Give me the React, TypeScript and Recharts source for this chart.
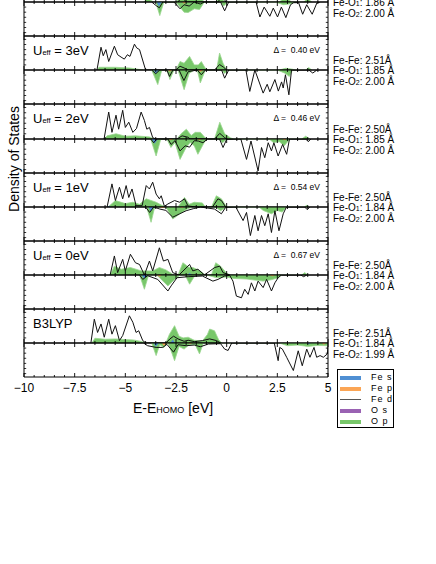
import React from 'react';
import { ComposedChart, Area, Line, XAxis, YAxis } from 'recharts';

type Pt = [number, number];

// energies in eV, DOS in arbitrary units (panel half height = 10)

// top panel, only its spin-down half is inside the picture
const cutFeDUp: Pt[] = [[-2.4, 0], [-2.2, 1.5], [-2.0, 0], [-0.4, 0], [-0.25, 3], [-0.05, 0]];
const cutFeDDn: Pt[] = [[-3.7, 0], [-3.45, -1.2], [-3.32, -1.7], [-3.15, 0], [-2.6, 0], [-2.3, -2], [-2.1, -0.8], [-1.85, -1.2], [-1.6, 0], [-1.3, -0.6], [-1.1, 0], [-0.3, 0], [-0.1, -2.6], [0.1, 0], [1.45, 0], [1.64, -4.4], [1.85, -1.5], [2.13, -4.2], [2.3, -1.8], [2.51, -4.4], [2.7, -1.5], [2.92, -4.6], [3.15, -0.8], [3.3, -0.2], [3.55, -0.2], [3.75, -3.6], [3.95, -0.8], [4.22, -3.6], [4.45, -0.3], [4.6, 0]];
const cutOpUp: Pt[] = [[-4.1, 0], [-3.9, 1], [-3.6, 0], [-2.5, 0], [-2.2, 2], [-1.8, 3], [-1.4, 2], [-1.1, 0], [-0.5, 0], [-0.3, 2], [-0.1, 0], [2.6, 0], [2.9, 1.5], [3.2, 0], [3.8, 0], [4.0, 1], [4.2, 0]];
const cutOpDn: Pt[] = [[-3.5, 0], [-3.3, -4], [-3.1, 0], [-2.5, 0], [-2.1, -3], [-1.9, -3.1], [-1.6, -2], [-1.34, -2.2], [-1.1, 0], [-0.3, 0], [-0.15, -1.2], [0.05, 0], [2.4, 0], [2.8, -0.8], [3.2, -0.5], [3.4, 0]];
const cutFeSDn: Pt[] = [[-3.45, 0], [-3.35, -1.3], [-3.2, 0]];
const cutFePDn: Pt[] = [[-2.2, 0], [-2.1, -0.5], [-2.0, 0]];

// U_eff = 3 eV
const u3FeDUp: Pt[] = [[-6.4, 0], [-6.2, 6.7], [-6.09, 4.2], [-5.96, 6], [-5.82, 2.5], [-5.54, 7], [-5.38, 4.5], [-5.21, 3.8], [-5.05, 3.2], [-4.9, 4.5], [-4.77, 4], [-4.55, 7.6], [-4.44, 6.5], [-4.3, 6], [-4.0, 0], [-2.5, 0], [-2.3, 1.1], [-2.1, 0.6], [-1.9, 0], [-0.6, 0], [-0.35, 1.6], [-0.15, 0.8], [0, 0]];
const u3FeDDn: Pt[] = [[-3.7, 0], [-3.5, -1.1], [-3.3, 0], [-2.95, 0], [-2.82, -1.9], [-2.65, 0], [-2.35, 0], [-2.11, -3.1], [-1.9, -0.5], [-1.45, 0], [-1.25, -1.4], [-1.05, 0], [-0.25, 0], [-0.1, -2.4], [0.1, 0], [0.95, 0], [1.14, -6.3], [1.39, 0], [1.8, -6.8], [2.0, -4.2], [2.13, -6.4], [2.38, -2.8], [2.55, -6.2], [2.71, -3.5], [2.79, -5.3], [2.9, -1.4], [3.07, -7.3], [3.2, 0], [4.05, 0], [4.25, -0.9], [4.45, 0]];
const u3OpUp: Pt[] = [[-6.4, 0], [-6.3, 0.8], [-5.5, 0.8], [-4.8, 0.6], [-4.1, 0], [-2.5, 0], [-2.3, 2.5], [-2.1, 2], [-1.83, 4], [-1.6, 1.5], [-1.4, 1.5], [-1.25, 2.5], [-1.05, 0.5], [-0.9, 0], [-0.5, 0], [-0.35, 5], [-0.18, 2], [0, 0], [2.6, 0], [2.9, 0.5], [3.2, 0.3], [3.4, 0], [3.9, 0], [4.05, 0.7], [4.2, 0]];
const u3OpDn: Pt[] = [[-3.7, 0], [-3.4, -4.3], [-3.2, 0], [-2.95, 0], [-2.8, -2.8], [-2.6, 0], [-2.4, 0], [-2.1, -5.8], [-1.85, -1], [-1.6, 0], [-1.45, 0], [-1.3, -3.8], [-1.05, 0], [-0.25, 0], [-0.1, -1], [0.05, 0], [2.5, 0], [2.9, -1], [3.09, -1.9], [3.25, 0]];
const u3FeSDn: Pt[] = [[-3.6, 0], [-3.5, -1.1], [-3.35, 0]];
const u3FePDn: Pt[] = [[-2.9, 0], [-2.8, -0.5], [-2.7, 0], [-1.4, 0], [-1.3, -0.6], [-1.15, 0]];

// U_eff = 2 eV
const u2FeDUp: Pt[] = [[-6.05, 0], [-5.82, 7.7], [-5.66, 1.9], [-5.46, 6.8], [-5.33, 2.8], [-5.13, 8.2], [-5.0, 3.3], [-4.83, 4.8], [-4.63, 1.9], [-4.45, 3], [-4.22, 7.7], [-4.06, 5.3], [-3.94, 2.8], [-3.81, 3.3], [-3.65, 0.4], [-3.5, 0], [-2.45, 0], [-2.2, 0.9], [-1.9, 0.5], [-1.8, 0], [-0.6, 0], [-0.34, 1.6], [-0.1, 0.4], [0, 0]];
const u2FeDDn: Pt[] = [[-3.75, 0], [-3.6, -1.1], [-3.45, 0], [-2.9, 0], [-2.74, -1.6], [-2.55, -0.5], [-2.3, -3.5], [-2.05, -2], [-1.83, -2.4], [-1.6, -0.5], [-1.4, -0.6], [-1.17, -1.1], [-0.95, 0], [-0.35, 0], [-0.18, -2.5], [0, -0.1], [0.7, 0], [0.98, -6], [1.2, -0.6], [1.55, -9.4], [1.72, -2.5], [1.88, -5.5], [2.05, -1.1], [2.21, -3.5], [2.33, -1.1], [2.54, -5], [2.76, -1.6], [2.96, -4.5], [3.1, 0], [3.9, 0], [4.03, -0.8], [4.15, 0]];
const u2OpUp: Pt[] = [[-6.05, 0], [-5.9, 0.9], [-5.46, 1.5], [-5.0, 0.8], [-4.5, 0.9], [-3.8, 0.6], [-3.6, 0], [-2.45, 0], [-2.25, 1.5], [-1.99, 2.8], [-1.75, 1], [-1.55, 1.9], [-1.3, 1.9], [-1.05, 0.3], [-0.9, 0], [-0.6, 0], [-0.34, 4.8], [-0.1, 1.5], [0.2, 0.3], [0.35, 0], [3.7, 0], [3.9, 0.8], [4.1, 0]];
const u2OpDn: Pt[] = [[-3.75, 0], [-3.48, -5], [-3.25, 0], [-2.95, 0], [-2.75, -2.5], [-2.55, -1], [-2.3, -6], [-2.0, -2.5], [-1.8, -1], [-1.6, -2], [-1.42, -4.5], [-1.15, -1.5], [-1.0, 0], [-0.4, 0], [-0.2, -1.1], [0, 0], [2.1, 0], [2.3, -1], [2.6, -0.8], [2.84, -2], [3.05, -0.5], [3.15, 0]];
const u2FeSDn: Pt[] = [[-3.7, 0], [-3.55, -1.4], [-3.4, 0]];
const u2FePDn: Pt[] = [[-2.85, 0], [-2.75, -0.4], [-2.65, 0], [-1.45, 0], [-1.35, -0.4], [-1.25, 0], [2.75, 0], [2.85, -0.4], [2.95, 0]];

// U_eff = 1 eV
const u1FeDUp: Pt[] = [[-5.9, 0], [-5.66, 6.8], [-5.49, 1.9], [-5.29, 5.8], [-5.13, 2.4], [-4.96, 6.3], [-4.83, 2.8], [-4.67, 5.3], [-4.47, 0.4], [-4.17, 0.4], [-3.97, 6.3], [-3.81, 5.3], [-3.65, 7.3], [-3.48, 3.8], [-3.32, 2.4], [-3.23, 3.3], [-3.07, 0.2], [-2.9, 0.9], [-2.57, 1.9], [-2.32, 1.4], [-2.08, 2.4], [-1.91, 0.3], [-1.5, 0], [-0.7, 0], [-0.43, 2.4], [-0.26, 1.9], [-0.05, 0]];
const u1FeDDn: Pt[] = [[-4.0, 0], [-3.8, -1.6], [-3.6, 0], [-3.3, -0.6], [-3.0, -1], [-2.66, -3], [-2.32, -2], [-2.0, -1.1], [-1.65, -0.5], [-1.3, 0], [-0.6, -0.6], [-0.26, -2], [-0.05, -0.1], [0.45, 0], [0.81, -4], [0.98, -1.6], [1.17, -8.4], [1.39, -2.5], [1.55, -7], [1.72, -2.5], [1.88, -5.5], [2.05, -2], [2.21, -7.5], [2.38, -1.1], [2.58, -7], [2.79, -2], [2.95, 0], [3.85, 0], [3.98, -0.8], [4.1, 0]];
const u1OpUp: Pt[] = [[-5.85, 0], [-5.49, 1.9], [-5.0, 1], [-4.63, 1.4], [-4.3, 0.8], [-3.97, 2.4], [-3.48, 1.4], [-3.2, 0.5], [-3.0, 0], [-2.4, 0], [-2.08, 2.8], [-1.85, 0.8], [-1.6, 1.4], [-1.2, 1.2], [-1.05, 0], [-0.75, 0], [-0.51, 3.3], [-0.26, 2.4], [0, 0], [3.85, 0], [3.95, 0.6], [4.05, 0]];
const u1OpDn: Pt[] = [[-3.95, 0], [-3.73, -4.5], [-3.55, 0], [-3.0, 0], [-2.66, -3.5], [-2.3, -2], [-1.95, -0.6], [-1.7, 0], [-0.55, 0], [-0.3, -1.1], [0, 0], [1.6, 0], [1.8, -1], [2.21, -2], [2.5, -1], [2.74, -1.5], [2.95, 0]];
const u1FeSUp: Pt[] = [[-5.9, 0], [-5.8, 0.4], [-5.7, 0]];
const u1FeSDn: Pt[] = [[-3.85, 0], [-3.75, -1.4], [-3.6, 0]];
const u1FePDn: Pt[] = [[-3.3, 0], [-3.2, -0.4], [-3.0, 0], [-2.3, 0], [-2.2, -0.3], [-2.1, 0]];

// U_eff = 0 eV
const u0FeDUp: Pt[] = [[-5.75, 0], [-5.54, 5.6], [-5.38, 0.7], [-5.13, 4.6], [-5.0, 1.2], [-4.75, 6.1], [-4.5, 3.6], [-4.3, 3.1], [-4.06, 0], [-3.81, 4.1], [-3.65, 1.2], [-3.32, 8], [-3.12, 4.1], [-2.9, 4.6], [-2.66, 0.7], [-2.35, 0], [-1.83, 3.1], [-1.67, 1.2], [-1.42, 1.7], [-1.1, 0], [-0.59, 2.2], [-0.34, 2.6], [-0.18, 0.7], [0.15, 0]];
const u0FeDDn: Pt[] = [[-4.3, 0], [-4.14, -1.3], [-3.9, -0.2], [-3.4, -1.3], [-2.9, -4.7], [-2.74, -3.2], [-2.45, -0.8], [-1.9, -0.5], [-1.2, -0.3], [-0.68, -1.8], [-0.43, -1.3], [-0.1, -0.3], [0.15, -0.1], [0.31, -1.8], [0.48, -6.2], [0.73, -6.7], [0.89, -4.2], [1.06, -5.7], [1.22, -2.3], [1.39, -4.7], [1.55, -1.8], [1.8, -3.7], [1.97, -1.3], [2.21, -4.7], [2.38, -2.3], [2.54, -0.8], [2.7, 0], [3.65, 0], [3.8, -0.5], [3.95, 0]];
const u0OpUp: Pt[] = [[-5.75, 0], [-5.54, 2.6], [-5.2, 1.7], [-4.75, 2.2], [-4.2, 1.2], [-3.65, 1.2], [-3.32, 2.2], [-3.0, 1.5], [-2.6, 0], [-2.4, 0], [-2.16, 3.6], [-1.85, 2.2], [-1.67, 2.2], [-1.3, 1.2], [-1.05, 0], [-0.75, 0], [-0.54, 3.6], [-0.3, 2.6], [0, 0.5], [0.2, 0], [3.7, 0], [3.85, 0.7], [4.0, 0]];
const u0OpDn: Pt[] = [[-4.3, 0], [-4.06, -4.2], [-3.85, 0], [-3.45, 0], [-2.9, -3.2], [-2.6, -1.5], [-2.3, 0], [-2.05, 0], [-1.83, -2.7], [-1.55, 0], [-1.0, 0], [-0.5, -0.8], [0, -0.6], [0.3, -1], [1.0, -1.2], [1.8, -1.8], [2.2, -1.4], [2.55, -0.8], [2.7, 0]];
const u0FeSUp: Pt[] = [[-1.95, 0], [-1.83, 0.6], [-1.7, 0]];
const u0FeSDn: Pt[] = [[-4.2, 0], [-4.06, -1.1], [-3.9, 0]];
const u0FePDn: Pt[] = [[-3.45, 0], [-3.32, -0.5], [-3.2, 0], [2.1, 0], [2.25, -0.4], [2.4, 0]];

// B3LYP
const b3FeDUp: Pt[] = [[-6.7, 0], [-6.53, 7], [-6.37, 3.1], [-6.2, 5.6], [-6.04, 1.7], [-5.82, 7], [-5.66, 2.6], [-5.49, 5.1], [-5.29, 0.7], [-5.13, 2.2], [-4.8, 8], [-4.63, 6.1], [-4.47, 3.1], [-4.34, 3.6], [-4.14, 0.7], [-3.98, 0], [-3.0, 0], [-2.8, 1.2], [-2.62, 2], [-2.4, 1.2], [-2.1, 0.5], [-1.9, 0.8], [-1.6, 0.4], [-1.2, 0.7], [-0.84, 1.2], [-0.5, 0.7], [-0.3, 0]];
const b3FeDDn: Pt[] = [[-4.1, 0], [-3.9, -0.8], [-3.48, -1.3], [-3.15, -1.3], [-2.95, -0.4], [-2.62, -2.7], [-2.4, -0.5], [-2.0, -0.8], [-1.6, -0.6], [-1.3, -1.1], [-0.9, -0.3], [-0.3, -0.2], [-0.1, -1.8], [0.07, -2.2], [0.25, 0], [2.35, 0], [2.54, -5.2], [2.62, -1.3], [2.75, -1.8], [2.96, -4.2], [3.29, -8.1], [3.53, -2.3], [3.73, -6.7], [3.95, -1.8], [4.11, -4.2], [4.31, -1.3], [4.44, -4.2], [4.61, -3.7], [4.77, -4.2], [4.97, -3.2], [5, -1]];
const b3OpUp: Pt[] = [[-6.65, 0], [-6.5, 1.4], [-6.0, 1.1], [-5.5, 1.2], [-5.0, 1], [-4.6, 0.9], [-4.15, 0.4], [-4.0, 0], [-3.0, 0], [-2.82, 2.6], [-2.57, 5.1], [-2.35, 2], [-2.15, 1.5], [-1.9, 1.7], [-1.6, 0.8], [-1.2, 0.6], [-0.95, 2.5], [-0.84, 4.1], [-0.6, 3.6], [-0.4, 1], [-0.25, 0]];
const b3OpDn: Pt[] = [[-3.7, 0], [-3.48, -3.7], [-3.3, -0.5], [-3.1, -1.3], [-2.9, 0], [-2.82, -1], [-2.57, -5.2], [-2.35, -1], [-2.1, -1.8], [-1.85, -0.5], [-1.55, -0.5], [-1.34, -3.2], [-1.15, 0], [2.6, 0], [3.0, -0.8], [3.5, -0.6], [4.0, -1], [4.5, -0.7], [5, -0.8]];
const b3FeSUp: Pt[] = [[-2.78, 0], [-2.66, 1], [-2.55, 0]];
const b3FeSDn: Pt[] = [[-3.6, 0], [-3.5, -1.1], [-3.35, 0], [3.95, 0], [4.05, -0.4], [4.15, 0]];
const b3FePDn: Pt[] = [[-3.2, 0], [-3.1, -0.8], [-2.95, 0], [-1.9, 0], [-1.8, -0.3], [-1.7, 0], [4.7, 0], [4.8, -0.5], [4.9, 0]];

const methods = [null, '3eV', '2eV', '1eV', '0eV', 'B3LYP'];
const gaps = [null, '0.40', '0.46', '0.54', '0.67', null];
const feFe = [null, '2.51', '2.50', '2.50', '2.50', '2.51'];
const feO1 = ['1.86', '1.85', '1.85', '1.84', '1.84', '1.84'];
const feO2 = ['2.00', '2.00', '2.00', '2.00', '2.00', '1.99'];

const xMajor = [-10, -7.5, -5, -2.5, 0, 2.5, 5];
const xTicks = Array.from({ length: 31 }, (_, i) => -10 + i * 0.5);
const yUpTicks = [1.5, 3, 4.5, 6, 7.5, 9];
const yDnTicks = [-9, -7.5, -6, -4.5, -3, -1.5];

const COLORS = { feS: '#4f8fd3', feP: '#fba555', feD: '#111111', oS: '#9a62b3', oP: '#78c76a' };
const FONT = '"Liberation Sans", Arial, Helvetica, sans-serif';

const panels = [
  { up: { d: cutFeDUp, p: cutOpUp, s: [], fp: [] }, dn: { d: cutFeDDn, p: cutOpDn, s: cutFeSDn, fp: cutFePDn } },
  { up: { d: u3FeDUp, p: u3OpUp, s: [], fp: [] }, dn: { d: u3FeDDn, p: u3OpDn, s: u3FeSDn, fp: u3FePDn } },
  { up: { d: u2FeDUp, p: u2OpUp, s: [], fp: [] }, dn: { d: u2FeDDn, p: u2OpDn, s: u2FeSDn, fp: u2FePDn } },
  { up: { d: u1FeDUp, p: u1OpUp, s: u1FeSUp, fp: [] }, dn: { d: u1FeDDn, p: u1OpDn, s: u1FeSDn, fp: u1FePDn } },
  { up: { d: u0FeDUp, p: u0OpUp, s: u0FeSUp, fp: [] }, dn: { d: u0FeDDn, p: u0OpDn, s: u0FeSDn, fp: u0FePDn } },
  { up: { d: b3FeDUp, p: b3OpUp, s: b3FeSUp, fp: [] }, dn: { d: b3FeDDn, p: b3OpDn, s: b3FeSDn, fp: b3FePDn } },
];

// page rows of the panel frames and of the zero lines
const edges = [-32, 36, 104, 173, 241, 309, 377];
const zeros = [2, 70, 139, 207, 275, 343];

const rows = (pts: Pt[]) => pts.map(([e, v]) => ({ e, v }));
const fmt = (v: number) => (v < 0 ? '\u2212' + Math.abs(v) : String(v));

function XTick(props: any) {
  const { x, y, payload, dir, labels } = props;
  const v = payload.value;
  const major = xMajor.some((m) => Math.abs(m - v) < 1e-6);
  return (
    <g>
      <line x1={x} x2={x} y1={y} y2={y + dir * (major ? 4 : 2)} stroke="#000" strokeWidth={0.9} />
      {labels && major && (
        <text x={x} y={y + 15} textAnchor="middle" fontSize={12} fontFamily={FONT} fill="#000">
          {fmt(v)}
        </text>
      )}
    </g>
  );
}

function YTick(props: any) {
  const { x, y, dir } = props;
  return <line x1={x} x2={x + dir * 2.2} y1={y} y2={y} stroke="#000" strokeWidth={0.8} />;
}

// one spin channel of one panel; axes are 1px thick boxes so Recharts draws them
function Half({ top, h, up, set, last }: any) {
  const bottomPad = last ? 24 : 0;
  const axisLine = { stroke: '#000', strokeWidth: 1 };
  return (
    <div style={{ position: 'absolute', left: 0, top: top - 1 }}>
      <ComposedChart width={340} height={h + 2 + bottomPad} margin={{ top: 0, right: 11, bottom: bottomPad, left: 23 }}>
        <XAxis xAxisId="b" type="number" dataKey="e" domain={[-10, 5]} ticks={xTicks} interval={0} orientation="bottom"
          height={1} tickSize={0} tickMargin={0} tickLine={false} axisLine={axisLine} allowDataOverflow
          tick={<XTick dir={-1} labels={last} />} />
        <XAxis xAxisId="t" type="number" dataKey="e" domain={[-10, 5]} ticks={xTicks} interval={0} orientation="top"
          height={1} tickSize={0} tickMargin={0} tickLine={false} axisLine={axisLine} allowDataOverflow
          tick={<XTick dir={1} />} />
        <YAxis yAxisId="l" type="number" domain={up ? [0, 10] : [-10, 0]} ticks={up ? yUpTicks : yDnTicks} interval={0}
          orientation="left" width={1} tickSize={0} tickMargin={0} tickLine={false} axisLine={axisLine} allowDataOverflow
          tick={<YTick dir={1} />} />
        <YAxis yAxisId="r" type="number" domain={up ? [0, 10] : [-10, 0]} ticks={up ? yUpTicks : yDnTicks} interval={0}
          orientation="right" width={1} tickSize={0} tickMargin={0} tickLine={false} axisLine={axisLine} allowDataOverflow
          tick={<YTick dir={-1} />} />
        <Area xAxisId="b" yAxisId="l" data={rows(set.p)} dataKey="v" type="linear" baseValue={0}
          fill={COLORS.oP} fillOpacity={1} stroke="#9bd68f" strokeWidth={0.8} isAnimationActive={false} />
        <Area xAxisId="b" yAxisId="l" data={rows(set.s)} dataKey="v" type="linear" baseValue={0}
          fill={COLORS.feS} fillOpacity={1} stroke="none" isAnimationActive={false} />
        <Area xAxisId="b" yAxisId="l" data={rows(set.fp)} dataKey="v" type="linear" baseValue={0}
          fill={COLORS.feP} fillOpacity={1} stroke="none" isAnimationActive={false} />
        <Line xAxisId="b" yAxisId="l" data={rows(set.d)} dataKey="v" type="linear"
          stroke={COLORS.feD} strokeWidth={1} dot={false} isAnimationActive={false} />
      </ComposedChart>
    </div>
  );
}

const txt = (extra: React.CSSProperties): React.CSSProperties => ({
  position: 'absolute', fontFamily: FONT, color: '#000', whiteSpace: 'pre', ...extra,
});

const legendItems = [
  { label: 'Fe s', color: COLORS.feS, line: false },
  { label: 'Fe p', color: COLORS.feP, line: false },
  { label: 'Fe d', color: '#555555', line: true },
  { label: 'O s', color: COLORS.oS, line: false },
  { label: 'O p', color: COLORS.oP, line: false },
];

export default function App() {
  return (
    <div style={{ position: 'absolute', left: 0, top: 0, width: 436, height: 564, overflow: 'hidden', background: '#fff' }}>
      {panels.map((pn, i) => (
        <React.Fragment key={i}>
          <Half top={edges[i]} h={zeros[i] - edges[i]} up set={pn.up} />
          <Half top={zeros[i]} h={edges[i + 1] - zeros[i]} up={false} set={pn.dn} last={i === panels.length - 1} />
        </React.Fragment>
      ))}

      {panels.map((_, i) => (
        <React.Fragment key={'t' + i}>
          {methods[i] && (
            <div style={txt({ left: 33, top: edges[i] + 7, fontSize: 13, lineHeight: '16px' })}>
              {methods[i] === 'B3LYP' ? 'B3LYP' : (
                <>U<span style={{ fontSize: 7.5 }}>eff</span> = {methods[i]}</>
              )}
            </div>
          )}
          {gaps[i] && (
            <div style={txt({ left: 0, width: 320, textAlign: 'right', top: edges[i] + 8, fontSize: 8.5, lineHeight: '12px' })}>
              {'\u0394 =  ' + gaps[i] + ' eV'}
            </div>
          )}
          {feFe[i] && (
            <div style={txt({ left: 333, top: zeros[i] - 15.5, fontSize: 10, lineHeight: '12px' })}>
              {'Fe-Fe: ' + feFe[i] + '\u00c5'}
            </div>
          )}
          <div style={txt({ left: 333, top: zeros[i] - 5.2, fontSize: 10, lineHeight: '12px' })}>
            Fe-O<span style={{ fontSize: 7 }}>1</span>{': ' + feO1[i] + ' \u00c5'}
          </div>
          <div style={txt({ left: 333, top: zeros[i] + 5.5, fontSize: 10, lineHeight: '12px' })}>
            Fe-O<span style={{ fontSize: 7 }}>2</span>{': ' + feO2[i] + ' \u00c5'}
          </div>
        </React.Fragment>
      ))}

      <div style={txt({ left: 14 - 60, top: 159 - 9, width: 120, textAlign: 'center', fontSize: 14, lineHeight: '18px', transform: 'rotate(-90deg)' })}>
        Density of States
      </div>
      <div style={txt({ left: 24, width: 304, textAlign: 'left', top: 399, fontSize: 14, lineHeight: '18px', paddingLeft: 109 })}>
        E-E<span style={{ fontSize: 9 }}>HOMO</span> [eV]
      </div>

      <div style={{ position: 'absolute', left: 337, top: 369, width: 55, height: 57, border: '1px solid #000', background: '#fff' }}>
        {legendItems.map((it, k) => (
          <div key={it.label} style={{ position: 'absolute', left: 0, top: 2 + k * 11, height: 11, width: 55 }}>
            <div style={{ position: 'absolute', left: 2, top: it.line ? 5 : 3.5, width: 21, height: it.line ? 1.3 : 4, background: it.color }} />
            <div style={txt({ left: 33, top: 0, fontSize: 9, lineHeight: '11px', letterSpacing: 1 })}>{it.label}</div>
          </div>
        ))}
      </div>
    </div>
  );
}
